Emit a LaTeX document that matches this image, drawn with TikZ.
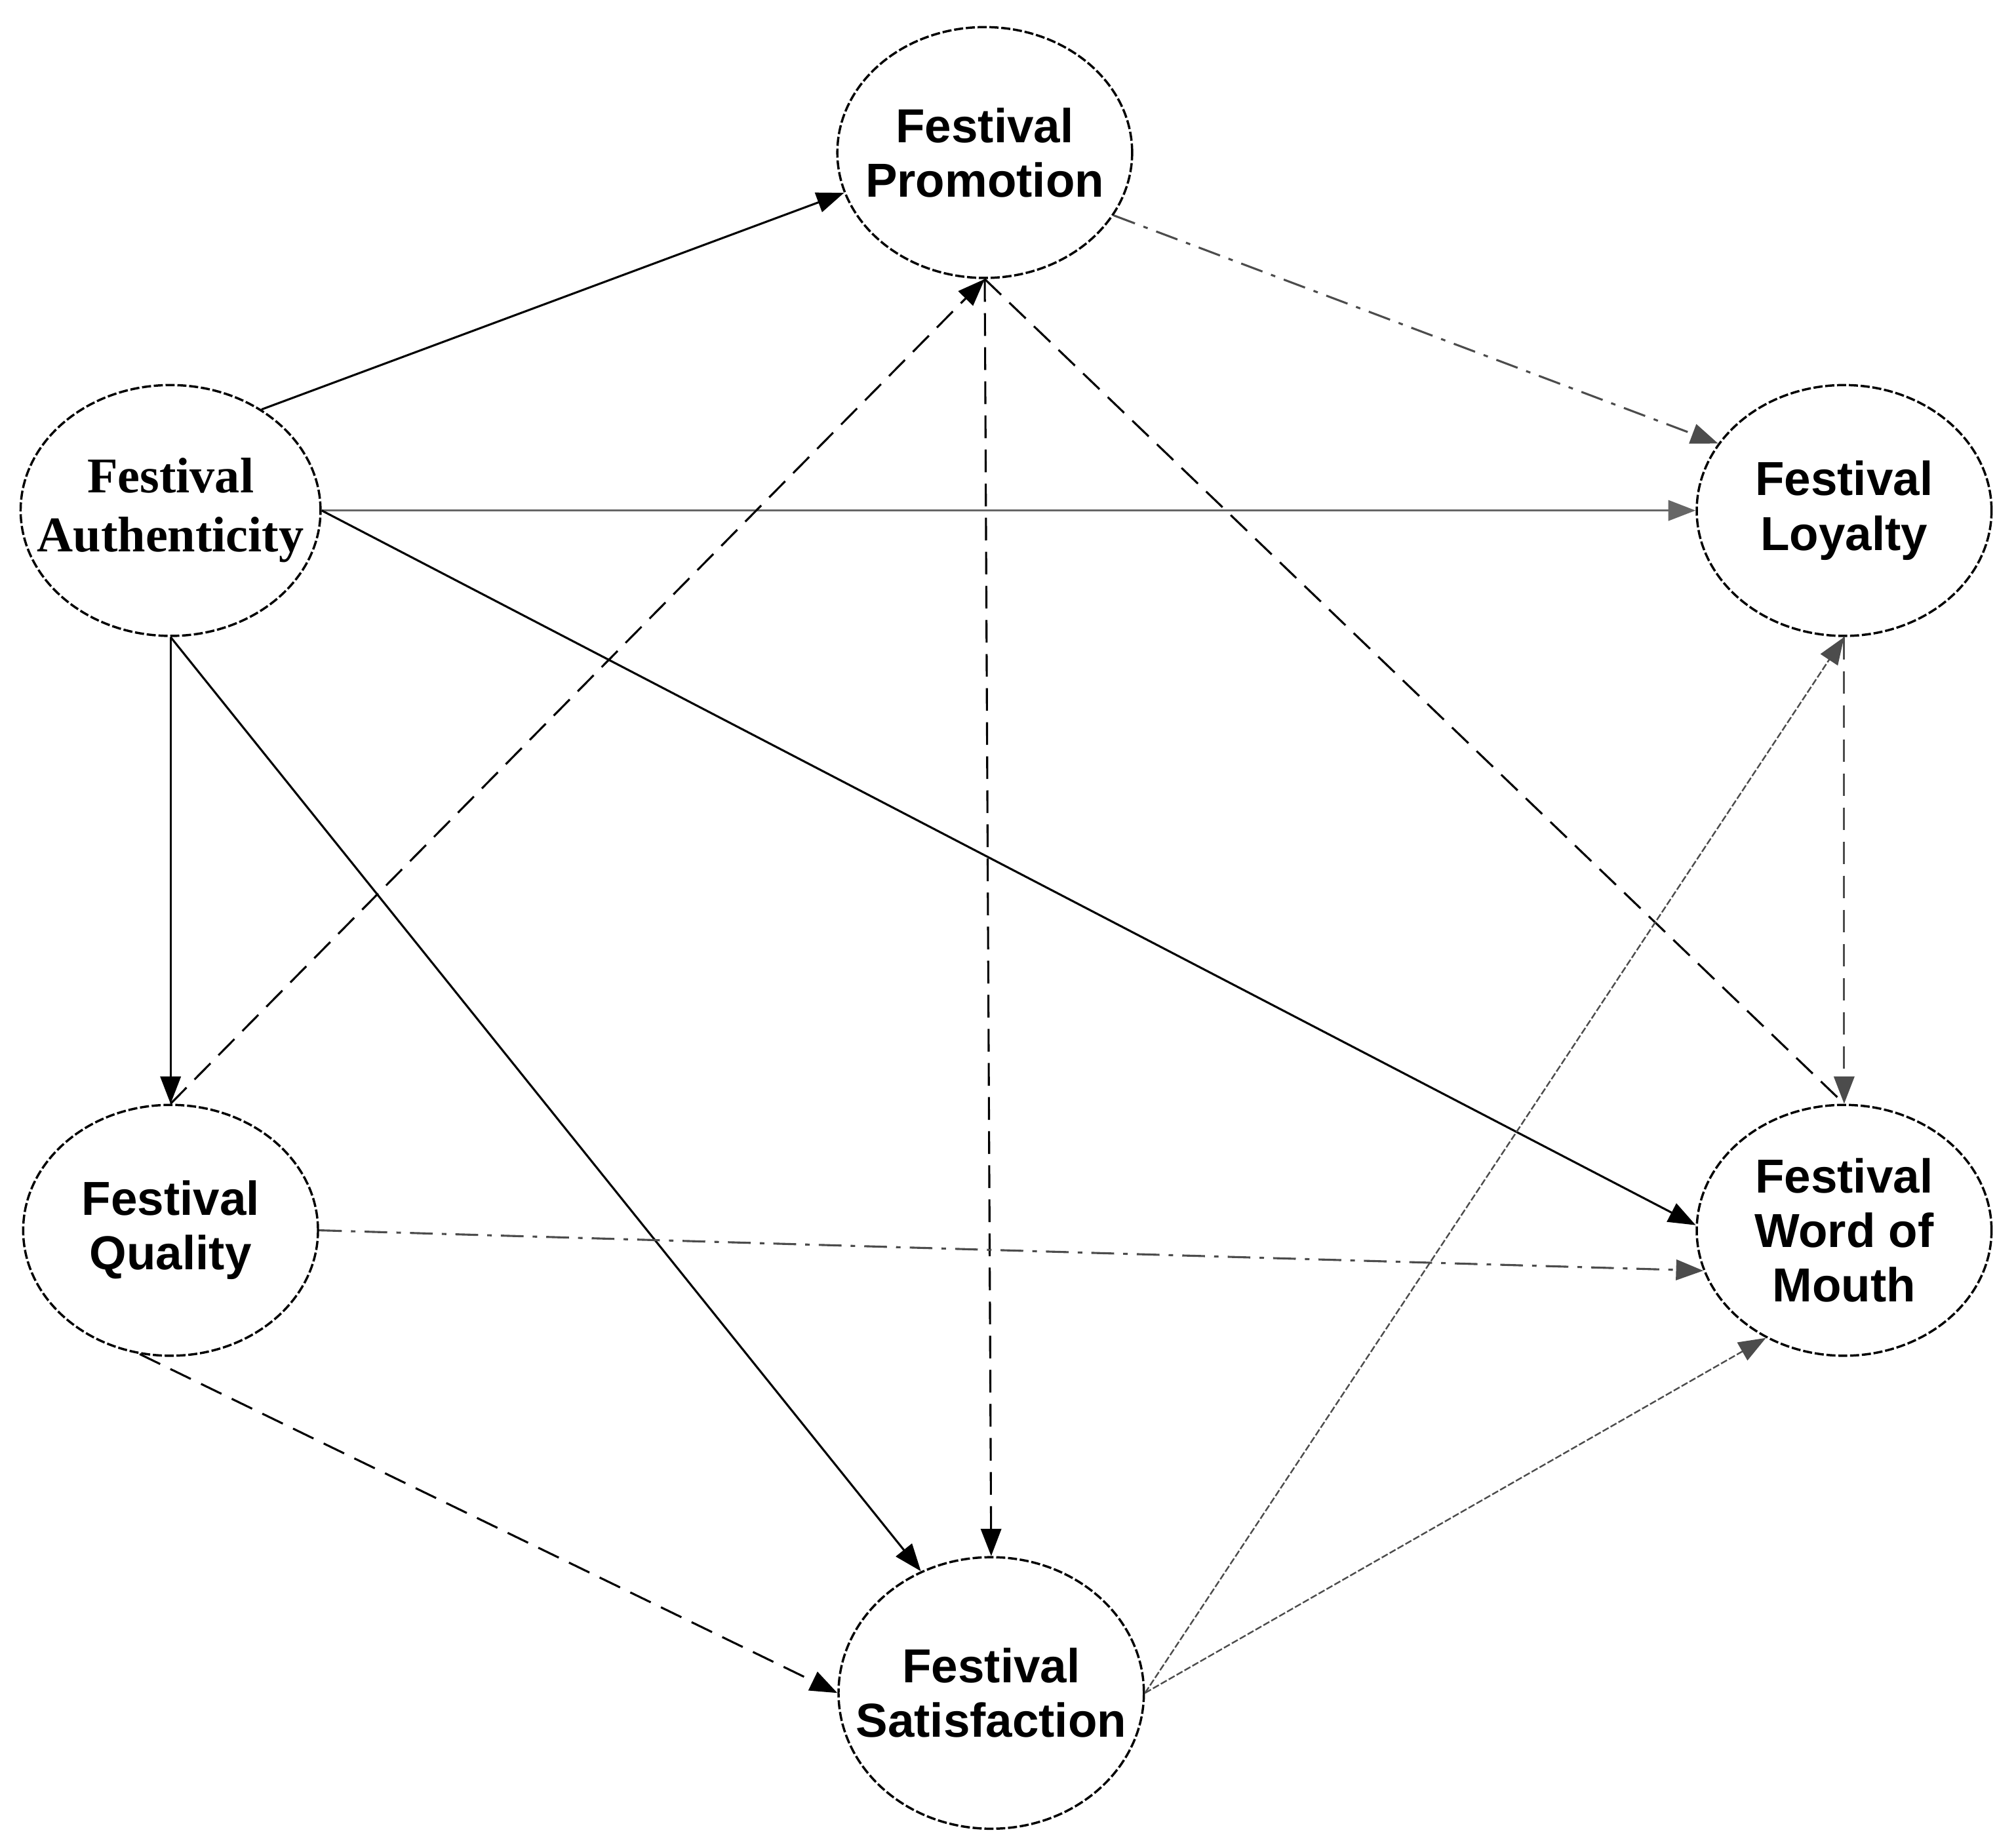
\documentclass[tikz,border=0pt]{standalone}
\usepackage{fontspec}
\setmainfont{Liberation Sans}
\newfontfamily\tms{Liberation Serif}
\usetikzlibrary{arrows.meta,shapes.geometric}
\begin{document}
\begin{tikzpicture}[x=0.01cm,y=-0.01cm,
  el/.style={ellipse,draw,line width=0.5pt,dash pattern=on 2pt off 0.6pt,minimum width=2.28cm,minimum height=1.94cm,align=center,font=\fontsize{10.5}{12}\selectfont\bfseries,inner sep=-6pt},
  ar/.style={-{Triangle[length=6pt,width=4.5pt]},line width=0.45pt},
  dsh/.style={ar,dash pattern=on 5pt off 2.5pt},
  dd/.style={ar,dash pattern=on 5pt off 2pt on 1pt off 2pt},
  dt/.style={ar,draw=black!70,line width=0.35pt,dash pattern=on 1.5pt off 0.5pt}]
\useasboundingbox (0,0) rectangle (1560,1423);
\node[el] (P) at (762,118) {Festival\\Promotion};
\node[el,font=\fontsize{11}{13}\selectfont\bfseries\tms] (A) at (132,395) {Festival\\Authenticity};
\node[el] (L) at (1427,395) {Festival\\Loyalty};
\node[el] (Q) at (132,952) {Festival\\Quality};
\node[el] (W) at (1427,952) {Festival\\Word of\\Mouth};
\node[el,minimum width=2.36cm,minimum height=2.1cm] (S) at (767,1310) {Festival\\Satisfaction};
\draw[ar] (A.48) -- (P.196);
\draw[ar,draw=black!60] (A.east) -- (L.west);
\draw[ar] (A.east) -- (W.178);
\draw[ar] (A.south) -- (Q.north);
\draw[ar] (A.south) -- (S.120);
\draw[dsh] (Q.north) -- (P.south);
\draw[dsh] (P.south) -- (S.north);
\draw[dd,draw=black!70] (P.-26) -- (L.152);
\draw[dsh,-] (P.south) -- (W.north);
\draw[dsh,draw=black!70] (L.south) -- (W.north);
\draw[dd,draw=black!70] (Q.east) -- (W.196);
\draw[dsh] (Q.256) -- (S.west);
\draw[dt] (S.east) -- (L.south);
\draw[dt] (S.east) -- (W.234);
\end{tikzpicture}
\end{document}
